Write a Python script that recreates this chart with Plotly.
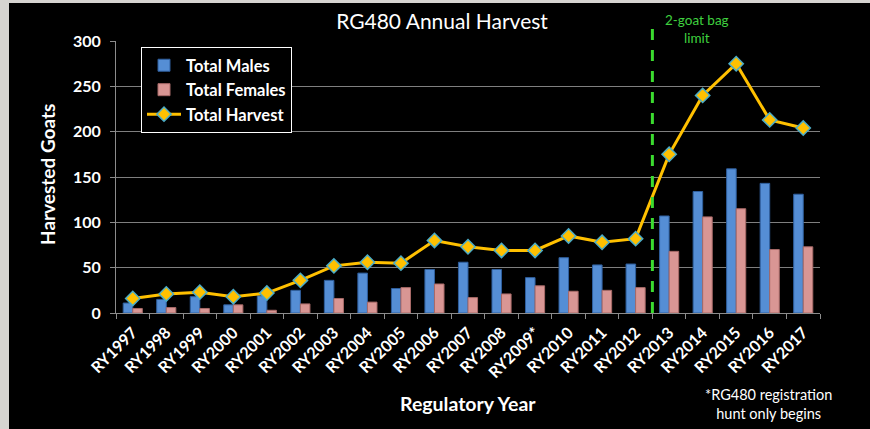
import plotly.graph_objects as go

years = ["RY1997", "RY1998", "RY1999", "RY2000", "RY2001", "RY2002", "RY2003",
         "RY2004", "RY2005", "RY2006", "RY2007", "RY2008", "RY2009*", "RY2010",
         "RY2011", "RY2012", "RY2013", "RY2014", "RY2015", "RY2016", "RY2017"]
males = [11, 15, 18, 9, 19, 25, 36, 44, 27, 48, 56, 48, 39, 61, 53, 54, 107, 134, 159, 143, 131]
females = [5, 6, 5, 9, 3, 10, 16, 12, 28, 32, 17, 21, 30, 24, 25, 28, 68, 106, 115, 70, 73]
total = [16, 21, 23, 18, 22, 36, 52, 56, 55, 80, 73, 69, 69, 85, 78, 82, 175, 240, 275, 213, 204]

W, H = 870, 429
L, R, T, B = 116, 50, 41, 116
PW, PH = W - L - R, H - T - B


def px_x(x):
    return (x - L) / PW


def px_y(y):
    return (H - B - y) / PH


FONT = "Lato, Calibri, sans-serif"

fig = go.Figure()
fig.add_trace(go.Bar(x=years, y=males, name="Total Males",
                     marker=dict(color="#558ED5", line=dict(color="#2F5F9E", width=1))))
fig.add_trace(go.Bar(x=years, y=females, name="Total Females",
                     marker=dict(color="#D99694", line=dict(color="#A86A68", width=1))))
fig.add_trace(go.Scatter(x=years, y=total, name="Total Harvest", mode="lines+markers",
                         line=dict(color="#FFC000", width=3),
                         marker=dict(symbol="diamond", size=11, color="#FFC000",
                                     line=dict(color="#4BACC6", width=1.5))))

shapes = [
    # black slide panel over the stone background
    dict(type="rect", xref="paper", yref="paper", layer="below",
         x0=px_x(9), x1=px_x(875), y0=px_y(435), y1=px_y(3),
         fillcolor="black", line=dict(width=0)),
    # gap in the top gridline behind the note
    dict(type="rect", xref="paper", yref="paper", layer="above",
         x0=px_x(655), x1=px_x(741), y0=px_y(46), y1=px_y(36),
         fillcolor="black", line=dict(width=0)),
    # bag limit marker
    dict(type="line", xref="x", yref="paper", x0=15.5, x1=15.5, y0=0, y1=px_y(28),
         line=dict(color="#3BDB2F", width=3, dash="11px,10px")),
]


def note(text, x, y, size, color="white", angle=0):
    return dict(text=text, xref="paper", yref="paper", x=px_x(x), y=px_y(y),
                xanchor="center", yanchor="middle", showarrow=False, textangle=angle,
                font=dict(family=FONT, size=size, color=color))


fig.update_layout(
    width=W, height=H,
    margin=dict(l=L, r=R, t=T, b=B, autoexpand=False),
    paper_bgcolor="#d6d4d0",
    plot_bgcolor="rgba(0,0,0,0)",
    font=dict(family=FONT, color="white"),
    title=dict(text="RG480 Annual Harvest", x=442 / W, y=1 - 22 / H,
               xanchor="center", yanchor="middle",
               font=dict(family=FONT, size=21, color="white")),
    barmode="group", bargap=0.43, bargroupgap=0,
    showlegend=True,
    legend=dict(x=px_x(141), y=px_y(47), xanchor="left", yanchor="top",
                bgcolor="black", bordercolor="white", borderwidth=1, itemwidth=34,
                font=dict(family=FONT, size=16.5, color="white", weight="bold")),
    shapes=shapes,
    annotations=[
        note("2-goat bag<br>limit", 697, 28.5, 13.5, color="#3FD03F"),
        note("*RG480 registration<br>hunt only begins", 768, 404, 14.5),
        note("<b>Regulatory Year</b>", 468, 403, 19.5),
        note("<b>Harvested Goats</b>", 47, 175, 19, angle=-90),
    ],
)

fig.update_xaxes(
    type="category", tickangle=-45, automargin=False,
    range=[-0.5, len(years) - 0.5],
    tickfont=dict(family=FONT, size=16, color="white", weight="bold"),
    ticklabelstandoff=3,
    showline=True, linecolor="#8c8c8c", linewidth=1,
    ticks="outside", tickson="boundaries", ticklen=5, tickcolor="#8c8c8c",
    showgrid=False,
)
fig.update_yaxes(
    range=[0, 300], dtick=50, automargin=False,
    tickfont=dict(family=FONT, size=16, color="white", weight="bold"),
    ticklabelstandoff=6,
    showline=True, linecolor="#8c8c8c", linewidth=1,
    ticks="outside", ticklen=5, tickcolor="#8c8c8c",
    showgrid=True, gridcolor="#7f7f7f", gridwidth=1, zeroline=False,
)

fig.write_html("out.html", config={"displayModeBar": False},
               post_script="document.body.style.margin='0';")
